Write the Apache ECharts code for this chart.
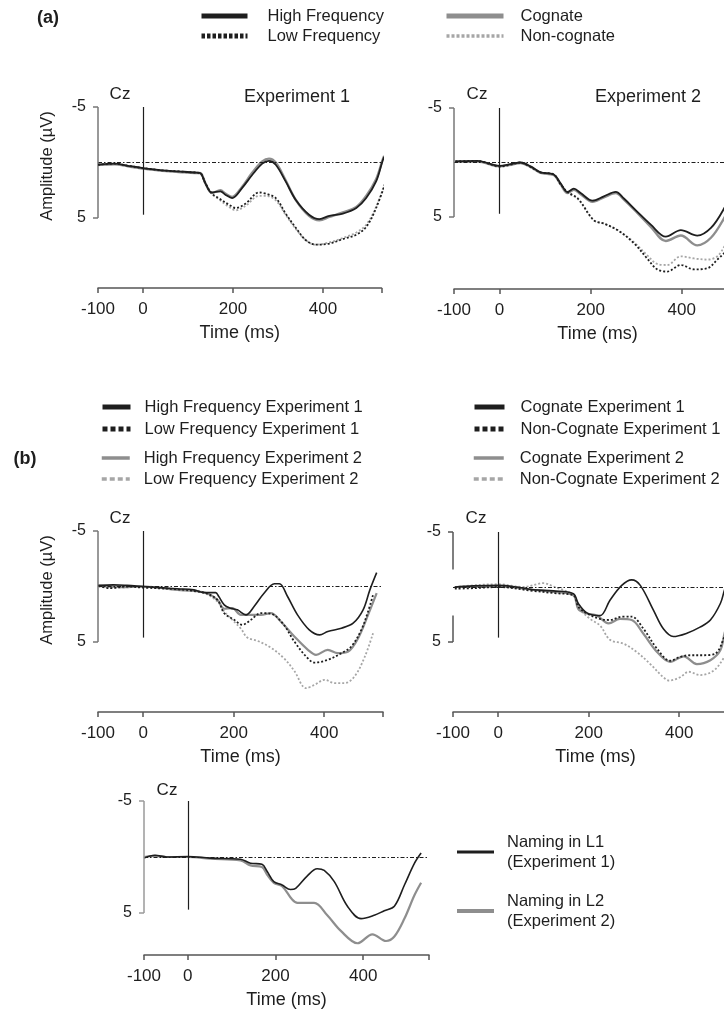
<!DOCTYPE html>
<html>
<head>
<meta charset="utf-8">
<script src="https://cdn.jsdelivr.net/npm/echarts@6/dist/echarts.min.js"></script>
<style>
  html, body { margin: 0; padding: 0; background: #fff; }
  #chart { width: 724px; height: 1011px; }
</style>
</head>
<body>
<div id="chart"></div>
<script>
// ---- Tick labels ----
const timeTickLabels = [-100, 0, 200, 400];   // ms
const ampTickLabels = [-5, 5];                 // µV (negative up)

// ---- (a) Experiment 1, Cz : [time ms, amplitude µV] ----
const exp1HighFreq = [[-100,0.2],[-63,0.1],[-33,0.3],[0,0.5],[42,0.7],[79,0.8],[116,0.9],[127,0.95],[139,1.9],[153,2.7],[172,2.6],[183,2.9],[198,3.2],[220,2.3],[243,1.1],[265,0.1],[280,-0.15],[295,0.2],[317,1.7],[340,3.4],[369,4.7],[392,5.1],[414,4.8],[444,4.6],[474,4.1],[496,3.2],[518,1.7],[533,-0.2],[545,-1.3]];
const exp1Cognate = [[-100,0.2],[-63,0.15],[-33,0.35],[0,0.55],[42,0.75],[79,0.85],[116,0.95],[127,0.95],[139,1.9],[153,2.75],[172,2.5],[183,2.8],[198,3.1],[220,2.2],[243,0.9],[265,-0.1],[280,-0.35],[295,0.0],[317,1.6],[340,3.4],[369,4.8],[392,5.2],[414,4.9],[444,4.5],[474,4.0],[496,3.0],[518,1.5],[533,-0.3],[545,-1.5]];
const exp1LowFreq = [[-100,0.2],[-63,0.1],[-33,0.3],[0,0.5],[42,0.7],[79,0.8],[116,0.9],[127,0.95],[139,1.9],[153,2.8],[168,3.2],[191,3.8],[206,4.1],[228,3.7],[258,2.7],[273,2.8],[295,3.2],[317,4.6],[340,5.9],[362,7.0],[384,7.4],[414,7.3],[444,6.9],[474,6.5],[496,5.8],[518,4.1],[545,1.1]];
const exp1NonCognate = [[-100,0.25],[-63,0.15],[-33,0.35],[0,0.55],[42,0.75],[79,0.85],[116,0.95],[127,1.0],[139,1.9],[153,2.8],[168,3.3],[191,4.0],[206,4.3],[228,3.9],[258,3.0],[273,3.0],[295,3.4],[317,4.7],[340,6.0],[362,7.0],[384,7.4],[414,7.2],[444,6.8],[474,6.3],[496,5.6],[518,4.0],[545,1.0]];

// ---- (a) Experiment 2, Cz ----
const exp2HighFreq = [[-97,-0.1],[-49,-0.15],[0,0.3],[24,0.15],[46,0],[68,0.35],[90,0.9],[119,1.1],[134,1.9],[149,2.7],[163,2.4],[178,2.8],[204,3.5],[229,3.1],[255,2.7],[273,3.3],[302,4.5],[332,5.7],[365,6.8],[398,6.2],[434,6.7],[464,6.0],[493,4.2],[510,2.6]];
const exp2Cognate = [[-97,-0.1],[-49,-0.1],[0,0.35],[24,0.2],[46,0.05],[68,0.4],[90,0.95],[119,1.15],[134,2.0],[149,2.8],[163,2.5],[178,2.9],[204,3.6],[229,3.2],[255,2.8],[273,3.4],[302,4.6],[332,5.9],[365,7.2],[398,6.7],[434,7.6],[464,6.9],[493,5.1],[510,3.6]];
const exp2LowFreq = [[-97,-0.1],[-49,-0.15],[0,0.35],[24,0.2],[46,0],[68,0.4],[90,0.9],[119,1.1],[134,2.0],[149,2.7],[172,3.3],[207,5.3],[229,5.6],[259,6.2],[295,7.4],[324,8.8],[346,9.8],[368,10.0],[398,9.4],[427,9.8],[456,9.7],[478,8.9],[495,8.2],[510,7.2]];
const exp2NonCognate = [[-97,-0.05],[-49,-0.1],[0,0.4],[24,0.25],[46,0.05],[68,0.45],[90,0.95],[119,1.15],[134,2.0],[149,2.75],[172,3.35],[207,5.3],[229,5.6],[259,6.2],[295,7.3],[324,8.5],[346,9.3],[368,9.4],[398,8.6],[427,8.8],[456,8.9],[478,8.6],[495,7.6],[510,6.6]];

// ---- (b) Word frequency, both experiments ----
const freqHighExp1 = [[-99,-0.1],[-66,-0.15],[-36,-0.1],[0,0],[38,0.1],[75,0.2],[112,0.3],[134,0.55],[160,0.55],[167,0.9],[179,1.65],[193,1.95],[208,2.1],[227,2.55],[245,1.8],[267,0.6],[290,-0.25],[301,-0.25],[319,0.9],[341,2.55],[367,3.9],[390,4.35],[408,4.05],[438,3.75],[464,3.3],[486,2.1],[501,0.3],[516,-1.25]];
const freqLowExp1 = [[-99,-0.05],[-73,0.15],[-36,0],[0,0.1],[75,0.25],[134,0.55],[164,1.2],[179,2.4],[201,3.0],[219,3.45],[238,3.0],[260,2.4],[282,2.45],[308,3.3],[334,4.95],[360,6.3],[379,6.85],[408,6.6],[438,6.0],[460,5.4],[482,3.9],[497,2.25],[508,0.75]];
const freqHighExp2 = [[-99,-0.05],[-50,0.05],[0,0],[75,0.3],[112,0.4],[141,0.6],[164,1.2],[179,2.0],[197,1.95],[216,2.55],[234,2.55],[260,2.55],[282,2.4],[304,3.15],[334,4.5],[364,5.7],[382,6.15],[408,5.7],[430,6.0],[453,5.85],[475,4.65],[497,2.55],[516,0.6]];
const freqLowExp2 = [[-99,0],[-50,0.1],[0,0],[75,0.3],[134,0.6],[164,1.35],[179,2.25],[197,3.0],[216,3.8],[230,4.6],[253,4.9],[282,5.5],[312,6.5],[334,7.6],[360,9.15],[379,8.85],[401,8.4],[423,8.7],[445,8.7],[467,8.1],[490,6.3],[508,4.2]];

// ---- (b) Cognate status, both experiments ----
const cogExp1 = [[-96,0],[-55,-0.1],[0,-0.15],[41,0],[77,0.25],[122,0.35],[166,0.6],[177,1.5],[196,2.35],[225,2.6],[247,1.2],[273,-0.15],[295,-0.65],[314,-0.15],[343,2.1],[365,3.8],[387,4.5],[417,4.2],[446,3.65],[469,3.0],[491,1.5],[500,0.3],[510,-0.8]];
const nonCogExp1 = [[-96,0.15],[-50,0.1],[0,0],[77,0.35],[122,0.55],[166,0.75],[177,1.8],[196,2.4],[225,2.9],[247,3.0],[273,2.7],[295,2.7],[321,3.8],[351,5.6],[380,6.7],[402,6.35],[424,6.2],[454,6.2],[480,6.05],[500,4.5],[510,3.2]];
const cogExp2 = [[-96,0],[0,-0.05],[77,0.25],[122,0.45],[166,0.75],[177,2.0],[196,2.4],[218,2.6],[244,3.3],[269,2.9],[295,3.0],[321,4.25],[351,5.9],[380,6.8],[410,6.3],[439,7.0],[469,6.65],[491,5.75],[500,4.25],[510,3.0]];
const nonCogExp2 = [[-96,0],[-40,-0.2],[0,-0.25],[55,0],[100,-0.35],[122,-0.05],[166,0.75],[181,2.0],[203,2.9],[225,3.5],[247,4.8],[277,5.15],[306,5.9],[336,7.0],[365,8.2],[378,8.5],[402,8.2],[421,7.7],[446,8.0],[476,7.6],[500,6.35],[510,5.4]];

// ---- (b) Naming language ----
const namingL1 = [[-100,0.1],[-75,-0.15],[-48,0],[0,-0.05],[51,0.1],[120,0.2],[143,0.55],[169,0.65],[181,1.3],[196,2.2],[215,2.5],[234,2.9],[246,2.8],[272,1.7],[295,1.05],[311,1.2],[334,2.2],[364,4.4],[395,5.5],[425,5.2],[448,4.8],[471,4.4],[494,2.5],[517,0.55],[532,-0.35]];
const namingL2 = [[-100,0],[-75,-0.1],[-48,0],[0,0],[51,0.15],[120,0.3],[143,0.75],[169,0.9],[181,1.6],[196,2.3],[215,2.6],[238,3.8],[250,4.1],[288,4.1],[318,5.2],[349,6.6],[387,7.7],[421,6.9],[452,7.5],[471,7.1],[494,5.5],[517,3.4],[532,2.3]];

// ---- Layout and styling ----
const FONT = '"Liberation Sans", Arial, Helvetica, sans-serif';
const INK = '#1e1e1e';

const STYLE = {
  blackSolid: { color: INK, width: 1.8, type: 'solid' },
  blackDot:   { color: INK, width: 1.8, type: [2, 2] },
  graySolid:  { color: '#8e8e8e', width: 2.4, type: 'solid' },
  grayDot:    { color: '#a6a6a6', width: 1.8, type: [2, 2] }
};

const panels = [
  { grid: { left: 98,  top: 107, width: 283.5, height: 181 }, xMax: 530, yMax: 11.3,  vEnd: 4.7, bracket: [[-5, 5]], bracketColor: '#777' },
  { grid: { left: 454, top: 108, width: 287,   height: 181 }, xMax: 530, yMax: 11.6,  vEnd: 4.7, bracket: [[-5, 5]], bracketColor: '#777' },
  { grid: { left: 98,  top: 531, width: 285,   height: 181 }, xMax: 530, yMax: 11.3,  vEnd: 4.6, bracket: [[-5, 5]], bracketColor: '#777' },
  { grid: { left: 453, top: 532, width: 285,   height: 180 }, xMax: 530, yMax: 11.36, vEnd: 4.6, bracket: [[-5, -1.6], [2.6, 5]], bracketColor: '#555' },
  { grid: { left: 144, top: 801, width: 285,   height: 154 }, xMax: 550, yMax: 8.75,  vEnd: 4.7, bracket: [[-5, 5]], bracketColor: '#9a9a9a' }
];

const panelSeries = [
  [['Non-cognate', exp1NonCognate, 'grayDot'], ['Cognate', exp1Cognate, 'graySolid'], ['Low Frequency', exp1LowFreq, 'blackDot'], ['High Frequency', exp1HighFreq, 'blackSolid']],
  [['Non-cognate', exp2NonCognate, 'grayDot'], ['Cognate', exp2Cognate, 'graySolid'], ['Low Frequency', exp2LowFreq, 'blackDot'], ['High Frequency', exp2HighFreq, 'blackSolid']],
  [['Low Frequency Experiment 2', freqLowExp2, 'grayDot'], ['High Frequency Experiment 2', freqHighExp2, 'graySolid'], ['Low Frequency Experiment 1', freqLowExp1, 'blackDot'], ['High Frequency Experiment 1', freqHighExp1, 'blackSolid']],
  [['Non-Cognate Experiment 2', nonCogExp2, 'grayDot'], ['Cognate Experiment 2', cogExp2, 'graySolid'], ['Non-Cognate Experiment 1', nonCogExp1, 'blackDot'], ['Cognate Experiment 1', cogExp1, 'blackSolid']],
  [['Naming in L2 (Experiment 2)', namingL2, 'graySolid'], ['Naming in L1 (Experiment 1)', namingL1, 'blackSolid']]
];

const grids = [], xAxes = [], yAxes = [], series = [];

panels.forEach((p, i) => {
  grids.push(Object.assign({ containLabel: false, outerBoundsMode: 'none' }, p.grid));

  xAxes.push({
    gridIndex: i, type: 'value', min: -100, max: p.xMax,
    axisLine: { show: true, onZero: false, lineStyle: { color: '#555', width: 1.5 } },
    axisTick: { show: true, customValues: timeTickLabels.concat([p.xMax]), length: 5, lineStyle: { color: '#555', width: 1.5 } },
    axisLabel: { customValues: timeTickLabels, margin: 13, fontSize: 17, color: INK, fontFamily: FONT },
    splitLine: { show: false },
    name: 'Time (ms)', nameLocation: 'middle', nameGap: 36,
    nameTextStyle: { fontSize: 18, color: INK, fontFamily: FONT }
  });

  yAxes.push({
    gridIndex: i, type: 'value', inverse: true, min: -5, max: p.yMax,
    axisLine: { show: false, onZero: false },
    axisTick: { show: true, customValues: ampTickLabels, length: 5, lineStyle: { color: p.bracketColor, width: 1.5 } },
    axisLabel: { customValues: ampTickLabels, margin: 12, fontSize: 16, color: INK, fontFamily: FONT },
    splitLine: { show: false }
  });

  // Reference lines: zero baseline, stimulus onset, amplitude bracket
  const guideLines = [
    { yAxis: 0, lineStyle: { color: INK, width: 1, type: [4, 2, 1.5, 2] } },
    [{ coord: [0, -5], lineStyle: { color: INK, width: 1.2, type: 'solid' } }, { coord: [0, p.vEnd] }]
  ];
  p.bracket.forEach(([a, b]) => {
    guideLines.push([{ coord: [-100, a], lineStyle: { color: p.bracketColor, width: 1.5, type: 'solid' } }, { coord: [-100, b] }]);
  });
  series.push({
    type: 'line', xAxisIndex: i, yAxisIndex: i, data: [], silent: true, z: 1,
    markLine: {
      silent: true, animation: false, symbol: ['none', 'none'],
      label: { show: false }, emphasis: { disabled: true },
      data: guideLines
    }
  });

  panelSeries[i].forEach(([name, data, styleKey], k) => {
    const st = Object.assign({}, STYLE[styleKey]);
    if (i >= 2 && styleKey === 'blackSolid') st.width = 1.6;
    if (i >= 2 && styleKey === 'graySolid') st.width = 2.2;
    series.push({
      type: 'line', name, data, xAxisIndex: i, yAxisIndex: i,
      symbol: 'none', smooth: 0.35, clip: false, silent: true, z: 2 + k,
      color: st.color,
      lineStyle: st
    });
  });
});

// Legend blocks
function legendBlock(items, left, top, itemWidth, pad, gap, extra) {
  return Object.assign({
    orient: 'vertical', left, top, padding: 0, itemGap: gap,
    itemWidth, itemHeight: 18, selectedMode: false,
    data: items.map(([name, ls]) => ({ name, lineStyle: ls, itemStyle: { opacity: 0 } })),
    textStyle: { fontSize: 16.5, color: INK, fontFamily: FONT, lineHeight: 18, padding: [0, 0, 0, pad] }
  }, extra || {});
}

const thick = w => ({ width: w, type: 'solid' });
const dots = (w, d, g) => ({ width: w, type: [d, g] });

const legends = [
  legendBlock([['High Frequency', thick(5)], ['Low Frequency', dots(5, 3.5, 2)]], 199, 7, 46, 15, 2),
  legendBlock([['Cognate', thick(5)], ['Non-cognate', dots(3.5, 3, 2)]], 444, 7, 57, 12, 2),
  legendBlock([['High Frequency Experiment 1', thick(5)], ['Low Frequency Experiment 1', dots(5, 5, 3)]], 100, 398, 28, 9, 4),
  legendBlock([['High Frequency Experiment 2', thick(3.5)], ['Low Frequency Experiment 2', dots(3.5, 5, 3)]], 100, 449, 28, 9, 3),
  legendBlock([['Cognate Experiment 1', thick(5)], ['Non-Cognate Experiment 1', dots(5, 5, 3)]], 472, 398, 30, 11, 4),
  legendBlock([['Cognate Experiment 2', thick(3.5)], ['Non-Cognate Experiment 2', dots(3.5, 5, 3)]], 472, 449, 30, 11, 3),
  legendBlock([['Naming in L1 (Experiment 1)', thick(3)], ['Naming in L2 (Experiment 2)', thick(4)]], 455, 832, 37, 8, 19, {
    formatter: name => name.replace(' (', '\n('),
    textStyle: { fontSize: 16.5, color: INK, fontFamily: FONT, lineHeight: 20, padding: [0, 0, 0, 8] }
  })
];

// Panel annotations
function label(text, x, y, size, opts) {
  return Object.assign({
    type: 'text', x, y, silent: true,
    style: Object.assign({ text, fill: INK, font: `${size}px ${FONT}`, textAlign: 'center', textVerticalAlign: 'middle' }, (opts && opts.style) || {})
  }, opts && opts.rotation !== undefined ? { rotation: opts.rotation } : {});
}

const graphics = [
  label('(a)', 48, 18, 18, { style: { font: `bold 18px ${FONT}` } }),
  label('(b)', 25, 459, 18, { style: { font: `bold 18px ${FONT}` } }),
  label('Experiment 1', 297, 97, 18),
  label('Experiment 2', 648, 97, 18),
  label('Cz', 120, 94, 17),
  label('Cz', 477, 94, 17),
  label('Cz', 120, 518, 17),
  label('Cz', 476, 518, 17),
  label('Cz', 167, 790, 17),
  label('Amplitude (µV)', 47, 166, 16.5, { rotation: Math.PI / 2 }),
  label('Amplitude (µV)', 47, 590, 16.5, { rotation: Math.PI / 2 })
];

const chart = echarts.init(document.getElementById('chart'), null, { renderer: 'canvas' });
chart.setOption({
  animation: false,
  backgroundColor: '#ffffff',
  textStyle: { fontFamily: FONT },
  grid: grids,
  xAxis: xAxes,
  yAxis: yAxes,
  legend: legends,
  graphic: graphics,
  series: series
});
</script>
</body>
</html>
